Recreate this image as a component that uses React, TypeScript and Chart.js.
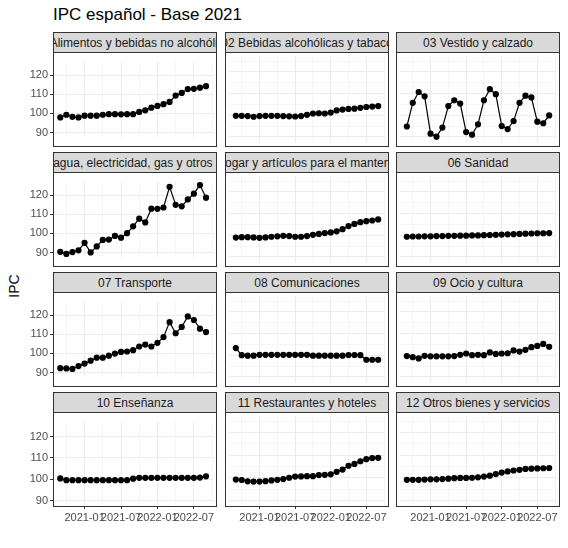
import React, { useEffect, useRef } from "react";
import Chart from "chart.js/auto";

const months = [
  "2020-09", "2020-10", "2020-11", "2020-12", "2021-01", "2021-02", "2021-03", "2021-04", "2021-05",
  "2021-06", "2021-07", "2021-08", "2021-09", "2021-10", "2021-11", "2021-12", "2022-01", "2022-02",
  "2022-03", "2022-04", "2022-05", "2022-06", "2022-07", "2022-08", "2022-09",
];
const xTickLabels = ["2021-01", "2021-07", "2022-01", "2022-07"];
const yTicks = [90, 100, 110, 120];

const groups = [
  "01 Alimentos y bebidas no alcohólicas",
  "02 Bebidas alcohólicas y tabaco",
  "03 Vestido y calzado",
  "04 Vivienda, agua, electricidad, gas y otros combustibles",
  "05 Muebles, artículos del hogar y artículos para el mantenimiento corriente del hogar",
  "06 Sanidad",
  "07 Transporte",
  "08 Comunicaciones",
  "09 Ocio y cultura",
  "10 Enseñanza",
  "11 Restaurantes y hoteles",
  "12 Otros bienes y servicios",
];

const alimentos = [97.9, 99.3, 98.2, 97.9, 98.8, 98.8, 98.8, 99.3, 99.6, 99.6, 99.5, 99.6, 99.6, 100.8, 101.6, 103.0, 103.9, 104.8, 106.0, 109.3, 110.7, 112.7, 112.8, 113.4, 114.2];
const bebidas = [99.7, 99.7, 99.6, 99.3, 99.6, 99.7, 99.7, 99.7, 99.6, 99.5, 99.4, 99.6, 100.2, 100.8, 100.9, 100.8, 101.2, 102.2, 102.6, 102.9, 103.0, 103.4, 103.8, 104.0, 104.2];
const vestido = [94.8, 105.7, 110.7, 108.7, 91.5, 90.1, 94.3, 104.2, 106.9, 105.4, 92.2, 91.0, 95.8, 106.9, 112.0, 109.7, 95.0, 93.6, 97.3, 105.7, 109.0, 108.2, 97.0, 96.3, 99.9];
const vivienda = [90.4, 89.3, 90.3, 91.2, 95.1, 90.1, 93.2, 96.6, 96.8, 98.7, 97.8, 100.1, 103.7, 107.7, 105.7, 112.9, 112.8, 113.5, 124.3, 114.9, 114.1, 117.7, 120.7, 125.2, 118.6];
const muebles = [98.9, 99.1, 99.1, 99.0, 98.8, 99.0, 99.3, 99.5, 99.7, 99.6, 99.3, 99.3, 99.6, 100.2, 100.6, 101.0, 101.3, 101.8, 102.8, 104.2, 105.2, 106.0, 106.5, 106.8, 107.3];
const sanidad = [99.3, 99.4, 99.4, 99.5, 99.5, 99.6, 99.6, 99.7, 99.7, 99.8, 99.8, 99.9, 99.9, 100.0, 100.1, 100.2, 100.3, 100.4, 100.5, 100.6, 100.7, 100.8, 100.9, 100.9, 101.0];
const transporte = [92.3, 92.2, 91.9, 93.4, 94.7, 96.2, 97.8, 97.8, 98.8, 99.9, 100.8, 101.0, 101.7, 103.6, 104.6, 103.6, 105.5, 108.5, 116.3, 110.5, 113.8, 119.3, 117.4, 112.9, 111.1];
const comunicaciones = [103.3, 100.0, 99.8, 99.8, 100.2, 100.2, 100.2, 100.2, 100.2, 100.2, 100.2, 100.2, 100.2, 99.8, 99.8, 99.8, 99.8, 99.8, 99.8, 100.1, 100.1, 100.0, 97.9, 97.9, 97.9];
const ocio = [99.6, 99.1, 98.5, 99.7, 99.5, 99.5, 99.5, 99.5, 99.6, 100.2, 100.8, 100.0, 100.2, 100.0, 101.3, 100.6, 100.8, 100.9, 102.2, 101.7, 102.5, 103.7, 104.3, 105.2, 103.9];
const ensenanza = [100.4, 99.6, 99.6, 99.6, 99.6, 99.6, 99.6, 99.6, 99.6, 99.6, 99.6, 99.6, 100.3, 100.7, 100.7, 100.7, 100.7, 100.7, 100.7, 100.7, 100.7, 100.7, 100.7, 100.8, 101.4];
const restaurantes = [99.2, 99.0, 98.4, 98.3, 98.3, 98.5, 98.8, 99.1, 99.4, 100.0, 100.5, 100.6, 100.7, 100.7, 101.2, 101.3, 101.5, 102.6, 103.6, 105.3, 106.1, 107.3, 108.2, 108.7, 108.8];
const otros = [99.1, 99.1, 99.1, 99.2, 99.3, 99.3, 99.4, 99.6, 99.8, 99.9, 99.9, 100.0, 100.2, 100.5, 100.9, 101.6, 102.3, 102.8, 103.2, 103.5, 103.9, 104.0, 104.1, 104.2, 104.3];

const series = [alimentos, bebidas, vestido, vivienda, muebles, sanidad, transporte, comunicaciones, ocio, ensenanza, restaurantes, otros];

const FONT = "'Liberation Sans', Arial, sans-serif";
const colLeft = [53, 225, 396];
const rowTop = [32, 152, 272, 392];
const PW = 164;
const PH = 93;
const STRIP = 21;
const YAXIS = 40;
const XAXIS = 24;

const Panel = ({ idx }: { idx: number }) => {
  const ref: any = useRef(null);
  const col = idx % 3;
  const row = Math.floor(idx / 3);
  const left = col === 0;
  const bottom = row === 3;

  useEffect(() => {
    const majorX = xTickLabels.map((m) => months.indexOf(m));
    const minorX = [majorX[0] - 3, ...majorX.map((v) => v + 3)];
    const chart = new Chart(ref.current, {
      type: "line",
      data: {
        datasets: [
          {
            data: series[idx].map((v, i) => ({ x: i, y: v })),
            borderColor: "#000",
            backgroundColor: "#000",
            borderWidth: 1.2,
            pointRadius: 2.5,
            pointHoverRadius: 2.5,
            clip: false as any,
          },
        ],
      },
      options: {
        animation: false,
        responsive: false,
        maintainAspectRatio: false,
        layout: { padding: 0 },
        plugins: { legend: { display: false }, tooltip: { enabled: false } },
        scales: {
          x: {
            type: "linear",
            min: -1.2,
            max: 25.2,
            afterBuildTicks: (s: any) => {
              s.ticks = [...minorX, ...majorX].sort((a, b) => a - b).map((v) => ({ value: v }));
            },
            afterFit: (s: any) => {
              s.height = bottom ? XAXIS : 0;
            },
            grid: {
              color: "#ebebeb",
              lineWidth: (c: any) => (majorX.includes(c.tick?.value) ? 1 : 0.5),
              drawTicks: bottom,
              tickLength: 3,
              tickColor: (c: any) => (majorX.includes(c.tick?.value) ? "#333" : "rgba(0,0,0,0)"),
            },
            border: { display: false },
            ticks: {
              display: bottom,
              autoSkip: false,
              maxRotation: 0,
              padding: 2,
              color: "#4d4d4d",
              font: { family: FONT, size: 11 },
              callback: (v: any) => (majorX.includes(v) ? months[v] : ""),
            },
          },
          y: {
            min: 87.5,
            max: 127,
            afterBuildTicks: (s: any) => {
              const all: number[] = [];
              yTicks.forEach((t) => all.push(t, t + 5));
              s.ticks = all.map((v) => ({ value: v }));
            },
            afterFit: (s: any) => {
              s.width = left ? YAXIS : 0;
            },
            grid: {
              color: "#ebebeb",
              lineWidth: (c: any) => (yTicks.includes(c.tick?.value) ? 1 : 0.5),
              drawTicks: left,
              tickLength: 3,
              tickColor: (c: any) => (yTicks.includes(c.tick?.value) ? "#333" : "rgba(0,0,0,0)"),
            },
            border: { display: false },
            ticks: {
              display: left,
              padding: 2,
              color: "#4d4d4d",
              font: { family: FONT, size: 11 },
              callback: (v: any) => (yTicks.includes(v) ? String(v) : ""),
            },
          },
        },
      },
    });
    return () => chart.destroy();
  }, []);

  const x0 = colLeft[col];
  const y0 = rowTop[row] + STRIP;
  const cw = PW + (left ? YAXIS : 0);
  const ch = PH + (bottom ? XAXIS : 0);
  return (
    <>
      <div
        style={{
          position: "absolute", left: x0, top: rowTop[row], width: PW - 2, height: STRIP - 2,
          background: "#d9d9d9", border: "1px solid #333", overflow: "hidden",
          display: "flex", justifyContent: "center", alignItems: "center",
          fontFamily: FONT, fontSize: 12, color: "#1a1a1a", whiteSpace: "nowrap",
        }}
      >
        <span>{groups[idx]}</span>
      </div>
      <canvas
        ref={ref}
        width={cw}
        height={ch}
        style={{ position: "absolute", left: x0 - (left ? YAXIS : 0), top: y0, width: cw, height: ch }}
      />
      <div
        style={{
          position: "absolute", left: x0, top: y0 - 1, width: PW - 2, height: PH,
          border: "1px solid #333", pointerEvents: "none",
        }}
      />
    </>
  );
};

export default function App() {
  return (
    <div style={{ position: "relative", width: 568, height: 548, margin: -8, background: "#fff", fontFamily: FONT }}>
      <div style={{ position: "absolute", left: 53, top: 5, fontSize: 17, color: "#000" }}>IPC español - Base 2021</div>
      <div
        style={{
          position: "absolute", left: 2, top: 278, fontSize: 14, color: "#000",
          transform: "rotate(-90deg)", transformOrigin: "center",
        }}
      >
        IPC
      </div>
      {series.map((_, i) => (
        <Panel key={i} idx={i} />
      ))}
    </div>
  );
}
